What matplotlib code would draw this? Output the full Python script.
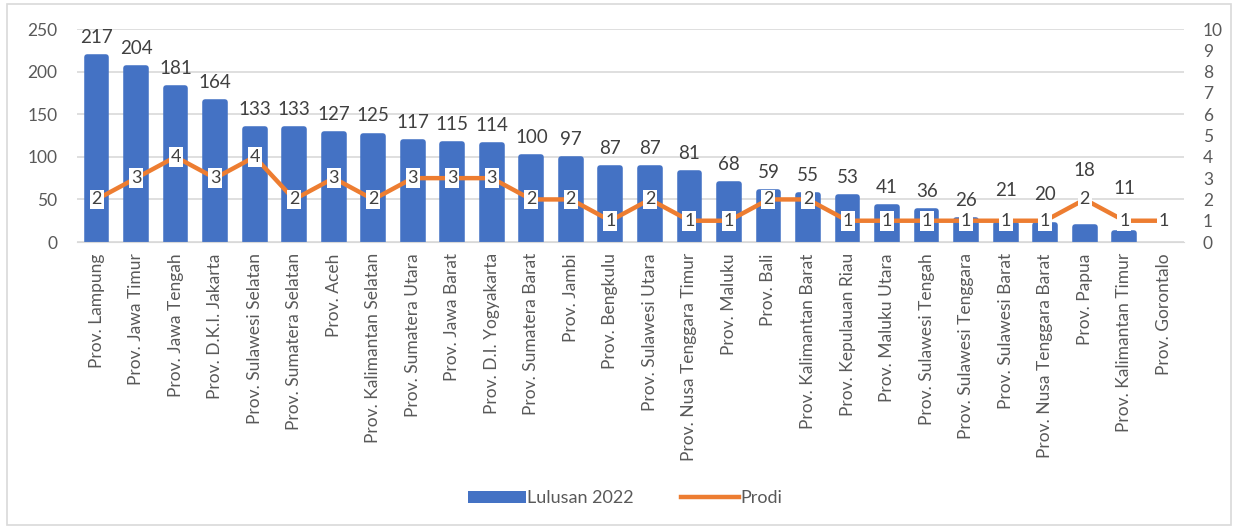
import matplotlib.pyplot as plt
from matplotlib.patches import Rectangle
from matplotlib.lines import Line2D

plt.rcParams['font.family'] = ['Lato', 'DejaVu Sans']

# data
provinces = ['Prov. Lampung', 'Prov. Jawa Timur', 'Prov. Jawa Tengah', 'Prov. D.K.I. Jakarta',
             'Prov. Sulawesi Selatan', 'Prov. Sumatera Selatan', 'Prov. Aceh',
             'Prov. Kalimantan Selatan', 'Prov. Sumatera Utara', 'Prov. Jawa Barat',
             'Prov. D.I. Yogyakarta', 'Prov. Sumatera Barat', 'Prov. Jambi', 'Prov. Bengkulu',
             'Prov. Sulawesi Utara', 'Prov. Nusa Tenggara Timur', 'Prov. Maluku', 'Prov. Bali',
             'Prov. Kalimantan Barat', 'Prov. Kepulauan Riau', 'Prov. Maluku Utara',
             'Prov. Sulawesi Tengah', 'Prov. Sulawesi Tenggara', 'Prov. Sulawesi Barat',
             'Prov. Nusa Tenggara Barat', 'Prov. Papua', 'Prov. Kalimantan Timur', 'Prov. Gorontalo']
lulusan = [217, 204, 181, 164, 133, 133, 127, 125, 117, 115, 114, 100, 97, 87, 87, 81, 68, 59,
           55, 53, 41, 36, 26, 21, 20, 18, 11, None]
prodi = [2, 3, 4, 3, 4, 2, 3, 2, 3, 3, 3, 2, 2, 1, 2, 1, 1, 2, 2, 1, 1, 1, 1, 1, 1, 2, 1, 1]

bar_col = '#4472C4'
line_col = '#ED7D31'
txt_col = '#595959'

fig = plt.figure(figsize=(12.38, 5.29), dpi=100)
ax = fig.add_axes([0.062, 0.5425, 0.894, 0.4025])
ax2 = ax.twinx()

x = list(range(len(provinces)))
bx = [i for i, v in enumerate(lulusan) if v is not None]
bh = [v for v in lulusan if v is not None]
# thick same-colour edge with round joins gives the rounded Excel look
ax.bar(bx, bh, width=0.5, color=bar_col, edgecolor=bar_col, linewidth=4,
       joinstyle='round', zorder=2)

# labels that Excel pushed up to dodge the line labels
extra = {23: 10, 24: 8, 25: 26, 26: 18}
for i, v in zip(bx, bh):
    ax.annotate(str(v), (i, v), xytext=(0, 8 + extra.get(i, 0)), textcoords='offset points',
                ha='center', va='bottom', fontsize=13.5, color='#404040')

ax.set_ylim(0, 250)
ax.set_yticks(range(0, 251, 50))
ax.set_xlim(-0.5, len(provinces) - 0.5)
ax.set_xticks(x)
ax.set_xticklabels(provinces, rotation=90, fontsize=12.5, color=txt_col)
ax.tick_params(axis='y', labelsize=12.5, colors=txt_col, length=0, pad=14)
ax.tick_params(axis='x', length=0, pad=8)
ax.grid(axis='y', color='#d9d9d9', linewidth=1.2, zorder=0)
ax.set_axisbelow(True)
for s in ax.spines.values():
    s.set_visible(False)
ax.spines['bottom'].set_visible(True)
ax.spines['bottom'].set_color('#d9d9d9')

ax2.plot(x, prodi, color=line_col, linewidth=3.2, zorder=3)
for i, p in enumerate(prodi):
    ax2.text(i, p, str(p), ha='center', va='center', fontsize=13, color='#404040', zorder=4,
             bbox=dict(boxstyle='square,pad=0.1', facecolor='white', edgecolor='none'))
ax2.set_ylim(0, 10)
ax2.set_yticks(range(0, 11))
ax2.tick_params(axis='y', labelsize=12.5, colors=txt_col, length=0, pad=14)
for s in ax2.spines.values():
    s.set_visible(False)

handles = [Rectangle((0, 0), 1, 1, facecolor=bar_col),
           Line2D([0], [0], color=line_col, linewidth=3.2)]
fig.legend(handles, ['Lulusan 2022', 'Prodi'], loc='center', bbox_to_anchor=(0.505, 0.058),
           ncol=2, frameon=False, fontsize=13, labelcolor=txt_col, handlelength=3.2,
           handletextpad=0.1, columnspacing=2.6)

fig.patches.append(Rectangle((0.006, 0.008), 0.988, 0.984, transform=fig.transFigure,
                             fill=False, edgecolor='#d9d9d9', linewidth=1.2))

fig.savefig('out.png', dpi=100)
